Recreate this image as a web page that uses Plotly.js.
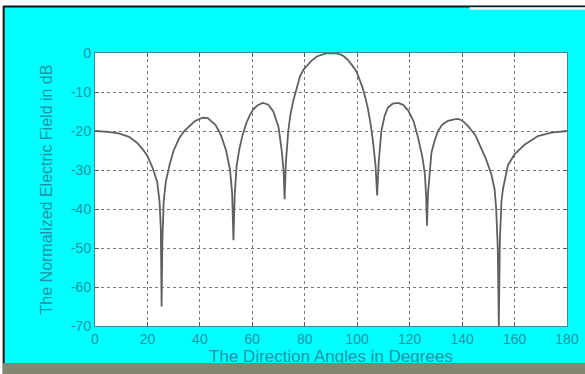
<!DOCTYPE html>
<html>
<head>
<meta charset="utf-8">
<script src="https://cdn.plot.ly/plotly-3.0.1.min.js"></script>
<style>
  html, body { margin: 0; padding: 0; background: #ffffff; }
  #wrap { position: relative; width: 585px; height: 374px; overflow: hidden; }
  #chart { width: 585px; height: 374px; }
  #band { position: absolute; left: 3px; top: 363px; width: 582px; height: 11px; background: #818770; }
</style>
</head>
<body>
<div id="wrap">
<div id="chart"></div>
<div id="band"></div>
</div>
<script>
// Direction angle (degrees)
var angles = [
  0, 5, 9, 13, 16, 18, 20, 22, 23.7, 24.6, 25.1, 25.4, 25.7, 26.2, 27, 28.5,
  30, 32, 34, 36, 38, 41, 43, 46, 48, 50, 51.5, 52.3, 52.8, 53.3, 54, 55,
  56.3, 57.7, 59, 60.3, 62, 64, 66, 68, 70, 71.2, 71.9, 72.3, 72.8, 73.7, 74.6, 75.6, 77, 78.2,
  79.5, 80.8, 82.5, 84.6, 86.5, 88, 90, 92, 94, 95, 96.5, 98, 99, 100, 101, 102, 103, 104, 105, 106, 107, 107.6, 108.2,
  109.2, 110.5, 111.7, 113.5, 115.6, 117.5, 119.4, 121.5, 123.2, 124.8,
  125.8, 126.3, 126.6, 127, 127.6, 128.3, 129.5, 130.8, 132.5, 134.6, 137,
  138.4, 140, 142.2, 145, 147.3, 149, 151.1, 152.4, 153, 153.6, 154, 154.4,
  155, 155.6, 157.5, 160, 163.8, 168.9, 174, 180
];
// Normalized electric field (dB)
var fieldDb = [
  -20, -20.2, -20.6, -21.5, -23, -24.5, -26.4, -29.5, -33, -38, -45, -65, -48, -38, -33, -28.5,
  -25, -22, -20, -18.7, -17.5, -16.6, -16.7, -18.5, -21, -25, -30, -36, -48, -36, -29, -24.8,
  -21, -18, -16, -14.5, -13.4, -12.8, -13.2, -15, -19, -25, -30, -37.5, -28, -20, -15.5, -12.3, -8.5, -5.9,
  -4.3, -3.2, -2.0, -0.9, -0.4, -0.1, 0, -0.1, -0.5, -0.9, -1.8, -3, -4, -5.2, -6.8, -8.8, -11.2, -14, -17.8, -22.6, -29, -36.5, -28,
  -20, -16, -14, -13, -12.8, -13.3, -14.7, -17.5, -21.7, -26.5,
  -31, -37, -44.3, -36, -30, -25.6, -22.5, -20, -18.3, -17.4, -17,
  -16.9, -17.3, -18.7, -21, -24.3, -27, -31, -35, -40, -50, -70, -48,
  -38, -34.8, -28.7, -26, -23.5, -21.3, -20.4, -20
];
var xTicks = [0, 20, 40, 60, 80, 100, 120, 140, 160, 180];
var yTicks = [0, -10, -20, -30, -40, -50, -60, -70];

var tickColor = '#1f95a5';
var trace = {
  x: angles,
  y: fieldDb,
  type: 'scatter',
  mode: 'lines',
  line: { color: '#606060', width: 1.8 },
  hoverinfo: 'x+y'
};

var layout = {
  width: 585,
  height: 374,
  margin: { l: 95, r: 18, t: 53, b: 48, pad: 0 },
  paper_bgcolor: '#00ffff',
  plot_bgcolor: '#ffffff',
  showlegend: false,
  font: { family: 'Liberation Sans, Arial, sans-serif', size: 14, color: tickColor },
  xaxis: {
    range: [0, 180],
    tickvals: xTicks,
    ticktext: xTicks.map(String),
    ticks: 'inside',
    ticklen: 4,
    tickcolor: '#555555',
    showline: true,
    mirror: 'ticks',
    linecolor: '#3f8a92',
    linewidth: 1,
    showgrid: true,
    gridcolor: '#777777',
    griddash: 'dot',
    gridwidth: 1,
    zeroline: false,
    tickfont: { size: 14, color: tickColor },
    title: { text: 'The Direction Angles in Degrees', font: { size: 17, color: tickColor }, standoff: 2 },
    automargin: false,
    fixedrange: true
  },
  yaxis: {
    range: [-70, 0],
    tickvals: yTicks,
    ticktext: yTicks.map(String),
    ticks: 'inside',
    ticklen: 4,
    tickcolor: '#555555',
    showline: true,
    mirror: 'ticks',
    linecolor: '#3f8a92',
    linewidth: 1,
    showgrid: true,
    gridcolor: '#777777',
    griddash: 'dot',
    gridwidth: 1,
    zeroline: false,
    tickfont: { size: 14, color: tickColor },
    title: { text: 'The Normalized Electric Field in dB', font: { size: 16, color: tickColor }, standoff: 14 },
    automargin: false,
    fixedrange: true
  },
  shapes: [
    { type: 'rect', xref: 'paper', yref: 'paper', x0: -0.3, x1: 1.2, y0: 1.172, y1: 1.3,
      fillcolor: '#ffffff', line: { width: 0 }, layer: 'below' },
    { type: 'rect', xref: 'paper', yref: 'paper', x0: -0.3, x1: -0.1945, y0: -0.3, y1: 1.3,
      fillcolor: '#ffffff', line: { width: 0 }, layer: 'below' },
    { type: 'line', xref: 'paper', yref: 'paper', x0: -0.1945, x1: 1.2, y0: 1.170, y1: 1.170,
      line: { color: '#111111', width: 2 }, layer: 'below' },
    { type: 'line', xref: 'paper', yref: 'paper', x0: -0.1935, x1: -0.1935, y0: -0.3, y1: 1.172,
      line: { color: '#111111', width: 2 }, layer: 'below' },
    { type: 'rect', xref: 'paper', yref: 'paper', x0: 0.794, x1: 1.2, y0: 1.158, y1: 1.168,
      fillcolor: '#e6f7f7', line: { width: 0 }, layer: 'below' }
  ]
};

Plotly.newPlot('chart', [trace], layout, { displayModeBar: false, staticPlot: true });
</script>
</body>
</html>
